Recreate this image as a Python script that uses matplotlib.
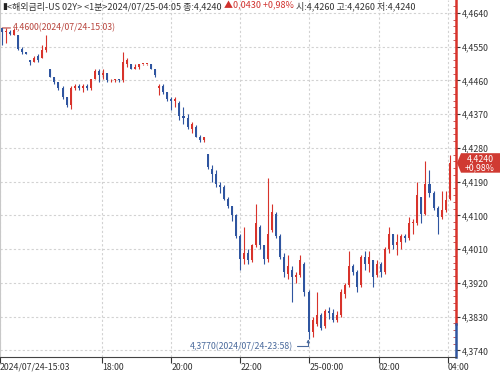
import matplotlib
matplotlib.use("Agg")
import matplotlib.pyplot as plt
import matplotlib.transforms as mtransforms
from matplotlib.patches import Polygon
from matplotlib.ticker import FuncFormatter, FixedLocator, AutoMinorLocator

plt.rcParams['font.family'] = ['Noto Sans CJK KR', 'DejaVu Sans']

# 7-minute bars starting 2024/07/24 15:03
BIN = 7
opens = [4.4600, 4.4590, 4.4590, 4.4580, 4.4580, 4.4545, 4.4535, 4.4515,
         4.4510, 4.4525, 4.4520, 4.4540, 4.4490, 4.4470, 4.4455, 4.4440,
         4.4415, 4.4395, 4.4440, 4.4445, 4.4440, 4.4445, 4.4440, 4.4465,
         4.4485, 4.4475, 4.4480, 4.4460, 4.4460, 4.4465, 4.4460, 4.4505,
         4.4505, 4.4490, 4.4495, 4.4505, 4.4505, 4.4505, 4.4490, 4.4440,
         4.4445, 4.4430, 4.4410, 4.4405, 4.4400, 4.4365, 4.4360, 4.4330,
         4.4335, 4.4310, 4.4300, 4.4265, 4.4225, 4.4210, 4.4180, 4.4175,
         4.4145, 4.4125, 4.4100, 4.4045, 4.3985, 4.4000, 4.3980, 4.4020,
         4.4070, 4.4020, 4.3985, 4.4060, 4.4105, 4.4045, 4.3990, 4.3945,
         4.3955, 4.3935, 4.3940, 4.3970, 4.3895, 4.3790, 4.3810, 4.3835,
         4.3805, 4.3845, 4.3840, 4.3820, 4.3835, 4.3890, 4.3915, 4.3965,
         4.3950, 4.3915, 4.3990, 4.3970, 4.3980, 4.3940, 4.3970, 4.3950,
         4.4010, 4.4050, 4.4020, 4.4030, 4.4045, 4.4040, 4.4080, 4.4080,
         4.4150, 4.4105, 4.4185, 4.4160, 4.4120, 4.4095, 4.4115, 4.4145]
highs = [4.4600, 4.4600, 4.4595, 4.4600, 4.4580, 4.4550, 4.4535, 4.4515,
         4.4525, 4.4530, 4.4555, 4.4580, 4.4490, 4.4470, 4.4455, 4.4445,
         4.4415, 4.4445, 4.4450, 4.4450, 4.4450, 4.4450, 4.4465, 4.4490,
         4.4490, 4.4490, 4.4480, 4.4465, 4.4465, 4.4465, 4.4535, 4.4520,
         4.4505, 4.4505, 4.4505, 4.4505, 4.4505, 4.4505, 4.4490, 4.4450,
         4.4450, 4.4430, 4.4415, 4.4415, 4.4405, 4.4390, 4.4370, 4.4350,
         4.4340, 4.4315, 4.4310, 4.4265, 4.4235, 4.4220, 4.4190, 4.4180,
         4.4150, 4.4125, 4.4105, 4.4050, 4.4070, 4.4010, 4.4025, 4.4130,
         4.4075, 4.4020, 4.4200, 4.4130, 4.4110, 4.4050, 4.4000, 4.3995,
         4.3965, 4.3950, 4.3995, 4.3975, 4.3900, 4.3830, 4.3895, 4.3840,
         4.3850, 4.3855, 4.3850, 4.3845, 4.3905, 4.3920, 4.4005, 4.3970,
         4.3955, 4.3995, 4.4005, 4.4005, 4.3980, 4.3980, 4.3975, 4.4015,
         4.4070, 4.4050, 4.4050, 4.4050, 4.4050, 4.4095, 4.4090, 4.4190,
         4.4150, 4.4245, 4.4220, 4.4165, 4.4125, 4.4165, 4.4165, 4.4260]
lows = [4.4555, 4.4560, 4.4580, 4.4580, 4.4540, 4.4530, 4.4530, 4.4500,
        4.4510, 4.4510, 4.4520, 4.4535, 4.4470, 4.4450, 4.4435, 4.4410,
        4.4390, 4.4385, 4.4435, 4.4435, 4.4430, 4.4435, 4.4435, 4.4465,
        4.4455, 4.4465, 4.4455, 4.4455, 4.4455, 4.4455, 4.4455, 4.4495,
        4.4490, 4.4490, 4.4490, 4.4500, 4.4500, 4.4490, 4.4470, 4.4420,
        4.4425, 4.4405, 4.4380, 4.4390, 4.4355, 4.4345, 4.4330, 4.4320,
        4.4310, 4.4295, 4.4295, 4.4225, 4.4190, 4.4175, 4.4160, 4.4140,
        4.4120, 4.4085, 4.4040, 4.3955, 4.3970, 4.3970, 4.3975, 4.4015,
        4.4010, 4.3970, 4.3975, 4.4055, 4.4040, 4.3985, 4.3935, 4.3930,
        4.3870, 4.3920, 4.3935, 4.3885, 4.3770, 4.3775, 4.3805, 4.3795,
        4.3800, 4.3825, 4.3815, 4.3815, 4.3830, 4.3880, 4.3910, 4.3940,
        4.3895, 4.3910, 4.3955, 4.3950, 4.3910, 4.3935, 4.3935, 4.3945,
        4.4000, 4.4010, 4.3995, 4.4010, 4.4030, 4.4035, 4.4050, 4.4075,
        4.4080, 4.4100, 4.4150, 4.4115, 4.4050, 4.4090, 4.4110, 4.4140]
closes = [4.4590, 4.4590, 4.4585, 4.4595, 4.4545, 4.4535, 4.4530, 4.4510,
          4.4520, 4.4515, 4.4540, 4.4550, 4.4470, 4.4455, 4.4440, 4.4415,
          4.4395, 4.4440, 4.4445, 4.4440, 4.4445, 4.4440, 4.4465, 4.4485,
          4.4475, 4.4480, 4.4460, 4.4460, 4.4465, 4.4460, 4.4510, 4.4515,
          4.4490, 4.4495, 4.4505, 4.4505, 4.4505, 4.4490, 4.4475, 4.4445,
          4.4430, 4.4410, 4.4405, 4.4410, 4.4365, 4.4360, 4.4335, 4.4345,
          4.4310, 4.4300, 4.4310, 4.4230, 4.4210, 4.4185, 4.4175, 4.4145,
          4.4125, 4.4100, 4.4045, 4.3985, 4.4000, 4.3980, 4.4020, 4.4080,
          4.4020, 4.3985, 4.4050, 4.4110, 4.4045, 4.3990, 4.3950, 4.3965,
          4.3935, 4.3940, 4.3980, 4.3895, 4.3790, 4.3820, 4.3835, 4.3800,
          4.3845, 4.3840, 4.3820, 4.3835, 4.3895, 4.3915, 4.3965, 4.3950,
          4.3910, 4.3990, 4.3970, 4.3990, 4.3935, 4.3970, 4.3950, 4.4010,
          4.4050, 4.4020, 4.4030, 4.4045, 4.4040, 4.4080, 4.4080, 4.4155,
          4.4105, 4.4185, 4.4160, 4.4120, 4.4095, 4.4115, 4.4140, 4.4240]

prev_close = 4.3810
last_price = 4.4240
high_mark = (0, 4.4600, "4,4600(2024/07/24-15:03)")
low_mark = (535, 4.3770, "4,3770(2024/07/24-23:58)")
xtick_pos = [0, 177, 297, 417, 537, 657, 777]
xtick_labels = ["2024/07/24-15:03", "18:00", "20:00", "22:00", "25-00:00", "02:00", "04:00"]
ytick_pos = [4.3740, 4.3830, 4.3920, 4.4010, 4.4100, 4.4190, 4.4280,
             4.4370, 4.4460, 4.4550, 4.4640]

UP = '#d8332b'
DOWN = '#2f55a0'
TXT = '#333333'

fig = plt.figure(figsize=(5.0, 3.72), dpi=100)
ax = fig.add_axes([0.0, 15 / 372, 456 / 500, 357 / 372])
ax.set_xlim(0, 791.5)
ax.set_ylim(4.37224, 4.46746)

xs = [i * BIN + BIN / 2 for i in range(len(opens))]
cols = [UP if c >= o else DOWN for o, c in zip(opens, closes)]
ax.vlines(xs, lows, highs, colors=cols, linewidth=0.8, zorder=3)
bottoms = [min(o, c) for o, c in zip(opens, closes)]
heights = [max(abs(c - o), 0.00025) for o, c in zip(opens, closes)]
ax.bar(xs, heights, bottom=bottoms, width=BIN * 0.5, color=cols,
       linewidth=0, zorder=4)

# grid
ax.grid(True, color='#d2d2d2', linestyle=(0, (2, 2)), linewidth=0.8)
ax.set_axisbelow(True)

# axes styling
for s in ['top', 'right']:
    ax.spines[s].set_visible(False)
ax.spines['left'].set_color('#c8c8c8')
ax.spines['bottom'].set_color('#444444')
ax.yaxis.tick_right()
ax.yaxis.set_major_locator(FixedLocator(ytick_pos))
ax.yaxis.set_major_formatter(FuncFormatter(lambda v, p: f"{v:.4f}".replace('.', ',')))
ax.yaxis.set_minor_locator(AutoMinorLocator(5))
ax.tick_params(axis='y', which='major', direction='out', length=3, width=0.8,
               colors=TXT, labelsize=6.3, pad=1)
ax.tick_params(axis='y', which='minor', direction='in', length=2, width=0.6,
               color='#c04040')
ax.set_xticks(xtick_pos)
ax.set_xticklabels(xtick_labels)
ax.tick_params(axis='x', direction='out', length=4, width=0.8, colors=TXT,
               labelsize=6.3, pad=0)
for lbl in ax.get_xticklabels():
    lbl.set_horizontalalignment('left')

# right axis line: red above previous close, blue below
tr = mtransforms.blended_transform_factory(ax.transAxes, ax.transData)
ax.plot([1, 1], [prev_close, 4.46746], transform=tr, color=UP, lw=1.8, clip_on=False)
ax.plot([1, 1], [4.37224, prev_close], transform=tr, color=DOWN, lw=1.8, clip_on=False)

# high / low annotations
ax.annotate(high_mark[2], xy=(high_mark[0] + 4, high_mark[1]), xytext=(23, high_mark[1]),
            ha='left', va='center', fontsize=6.3, color='#b8453d',
            arrowprops=dict(arrowstyle='-', color='#b8453d', lw=0.8,
                            shrinkA=0, shrinkB=0))
ax.annotate(low_mark[2], xy=(low_mark[0], low_mark[1]), xytext=(509, 4.37506),
            ha='right', va='center', fontsize=6.3, color='#4a6a9c',
            arrowprops=dict(arrowstyle='-|>,head_length=0.25,head_width=0.12',
                            color='#4a6a9c', lw=0.8, shrinkA=1, shrinkB=0,
                            connectionstyle='angle,angleA=0,angleB=90,rad=0'))

# current price box at the right axis
trf = mtransforms.blended_transform_factory(fig.transFigure, ax.transData)
h = 0.0026
box = Polygon([(457 / 500, last_price), (461 / 500, last_price + h),
               (1.0, last_price + h), (1.0, last_price - h),
               (461 / 500, last_price - h)], closed=True, transform=trf,
              facecolor='#d03a32', edgecolor='none', clip_on=False, zorder=10)
ax.add_patch(box)
ax.text(480 / 500, last_price + 0.00115, "4,4240", transform=trf, ha='center',
        va='center', color='white', fontsize=6.3, clip_on=False, zorder=11)
ax.text(480 / 500, last_price - 0.00125, "+0,98%", transform=trf, ha='center',
        va='center', color='white', fontsize=6.3, clip_on=False, zorder=11)

# header line
fig.canvas.draw()
renderer = fig.canvas.get_renderer()
parts = [("▮", '#222222'),
         ("<해외금리-US 02Y> <1분>2024/07/25-04:05 종:4,4240 ", TXT),
         ("▲0,0430 +0,98%", '#d0312d'),
         (" 시:4,4260 고:4,4260 저:4,4240", TXT)]
x = 2
for s, c in parts:
    t = fig.text(x / 500, 1 - 6 / 372, s, ha='left', va='center', color=c,
                 fontsize=6.5)
    x = t.get_window_extent(renderer).x1

fig.savefig("out.png", dpi=100, facecolor='white')
